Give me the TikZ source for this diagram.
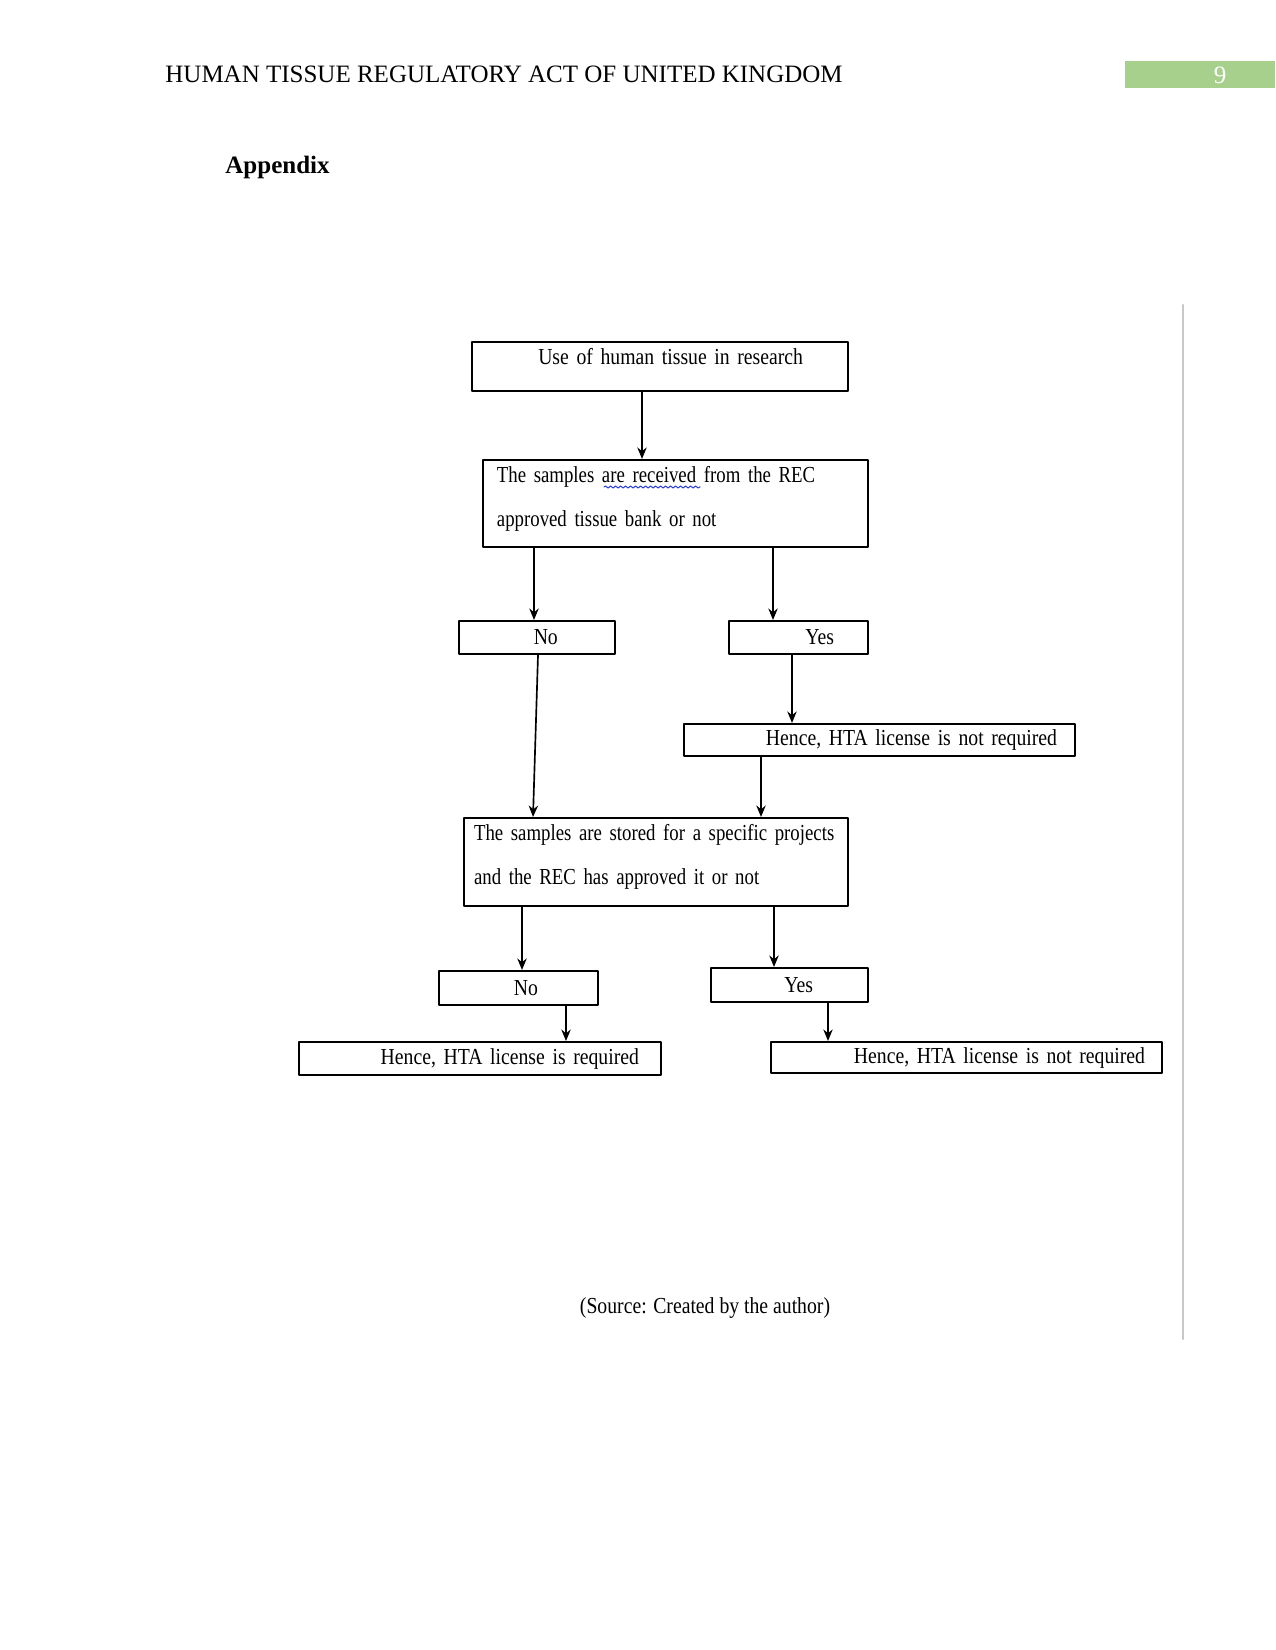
\documentclass[tikz,border=0pt]{standalone}
\usepackage{fontspec}
\setmainfont{Liberation Serif}
\newfontfamily\chartfont[FakeStretch=0.86]{Liberation Serif}
\newfontfamily\chartnarrow[FakeStretch=0.82]{Liberation Serif}
\usetikzlibrary{arrows.meta,decorations.pathmorphing}
\definecolor{pagegreen}{RGB}{168,208,141}
\definecolor{rulegray}{RGB}{200,200,200}
\definecolor{spellblue}{RGB}{40,60,220}
\begin{document}
\begin{tikzpicture}[x=0.48pt,y=-0.48pt,line cap=round,line join=round,
  box/.style={draw,line width=1pt,inner xsep=0pt,inner ysep=2pt,
    font=\chartfont\fontsize{11}{21}\selectfont},
  twoline/.style={box,align=left,text depth=28pt,
    font=\chartnarrow\fontsize{11}{21}\selectfont},
  arr/.style={line width=.8pt,-{Stealth[length=5.5pt,width=4.5pt]}},
  head/.style={inner sep=0pt,font=\fontsize{12}{14}\selectfont}]
\useasboundingbox (0,0) rectangle (1275,1650);
% page header
\node[head,anchor=base west] (title) at (165,83)
  {HUMAN TISSUE REGULATORY ACT OF UNITED KINGDOM};
\fill[pagegreen] (1125,61) rectangle (1275,88);
\node[head,text=white] (page) at (1220,75) {9};
\node[head,font=\bfseries\fontsize{12}{14}\selectfont,anchor=base west] (appx) at (225,174)
  {Appendix};
\draw[rulegray,line width=1pt] (1183,305)--(1183,1339);
% flow chart
\node[box,minimum width=180.5pt,minimum height=23.5pt,text width=137.3pt,align=right,
  text depth=10pt] (use) at (660,366.5) {Use of human tissue in research};
\node[twoline,minimum width=184.8pt,minimum height=41.8pt,text width=171.4pt]
  (recv) at (675.5,503.5) {The samples are received from the REC\\approved tissue bank or not};
\node[box,minimum width=74.9pt,minimum height=15.8pt,text width=20pt,align=right]
  (no1) at (537,637.5) {No};
\node[box,minimum width=66.7pt,minimum height=15.8pt,text width=34pt,align=right]
  (yes1) at (798.5,637.5) {Yes};
\node[box,minimum width=187.7pt,minimum height=15.4pt,text width=170.4pt,align=right]
  (hta1) at (879.5,740) {Hence, HTA license is not required};
\node[twoline,minimum width=184.3pt,minimum height=42.2pt,text width=174.7pt]
  (stored) at (656,862) {The samples are stored for a specific projects\\and the REC has approved it or not};
\node[box,minimum width=76.3pt,minimum height=16.3pt,text width=18.7pt,align=right]
  (no2) at (518.5,988) {No};
\node[box,minimum width=75.4pt,minimum height=16.3pt,text width=22.6pt,align=right]
  (yes2) at (789.5,985) {Yes};
\node[box,minimum width=173.8pt,minimum height=15.8pt,text width=152.6pt,align=right]
  (hta2) at (480,1058.5) {Hence, HTA license is required};
\node[box,minimum width=187.7pt,minimum height=14.9pt,text width=171.4pt,align=right]
  (hta3) at (966.5,1057.5) {Hence, HTA license is not required};
% spell-check squiggle
\draw[spellblue,line width=.5pt,decorate,
  decoration={snake,amplitude=.5pt,segment length=2.4pt}] (604,487)--(700,487);
\draw[arr] (use.south -| 642,0)--(recv.north -| 642,0);
\draw[arr] (recv.south -| 534,0)--(no1.north -| 534,0);
\draw[arr] (recv.south -| 773,0)--(yes1.north -| 773,0);
\draw[arr] (yes1.south -| 792,0)--(hta1.north -| 792,0);
\draw[arr] (no1.south -| 538,0)--(stored.north -| 533,0);
\draw[arr] (hta1.south -| 761,0)--(stored.north -| 761,0);
\draw[arr] (stored.south -| 522,0)--(no2.north -| 522,0);
\draw[arr] (stored.south -| 774,0)--(yes2.north -| 774,0);
\draw[arr] (no2.south -| 566,0)--(hta2.north -| 566,0);
\draw[arr] (yes2.south -| 828,0)--(hta3.north -| 828,0);
\node[font=\chartfont\fontsize{11}{13}\selectfont] (src) at (705,1308)
  {(Source: Created by the author)};
\end{tikzpicture}
\end{document}
